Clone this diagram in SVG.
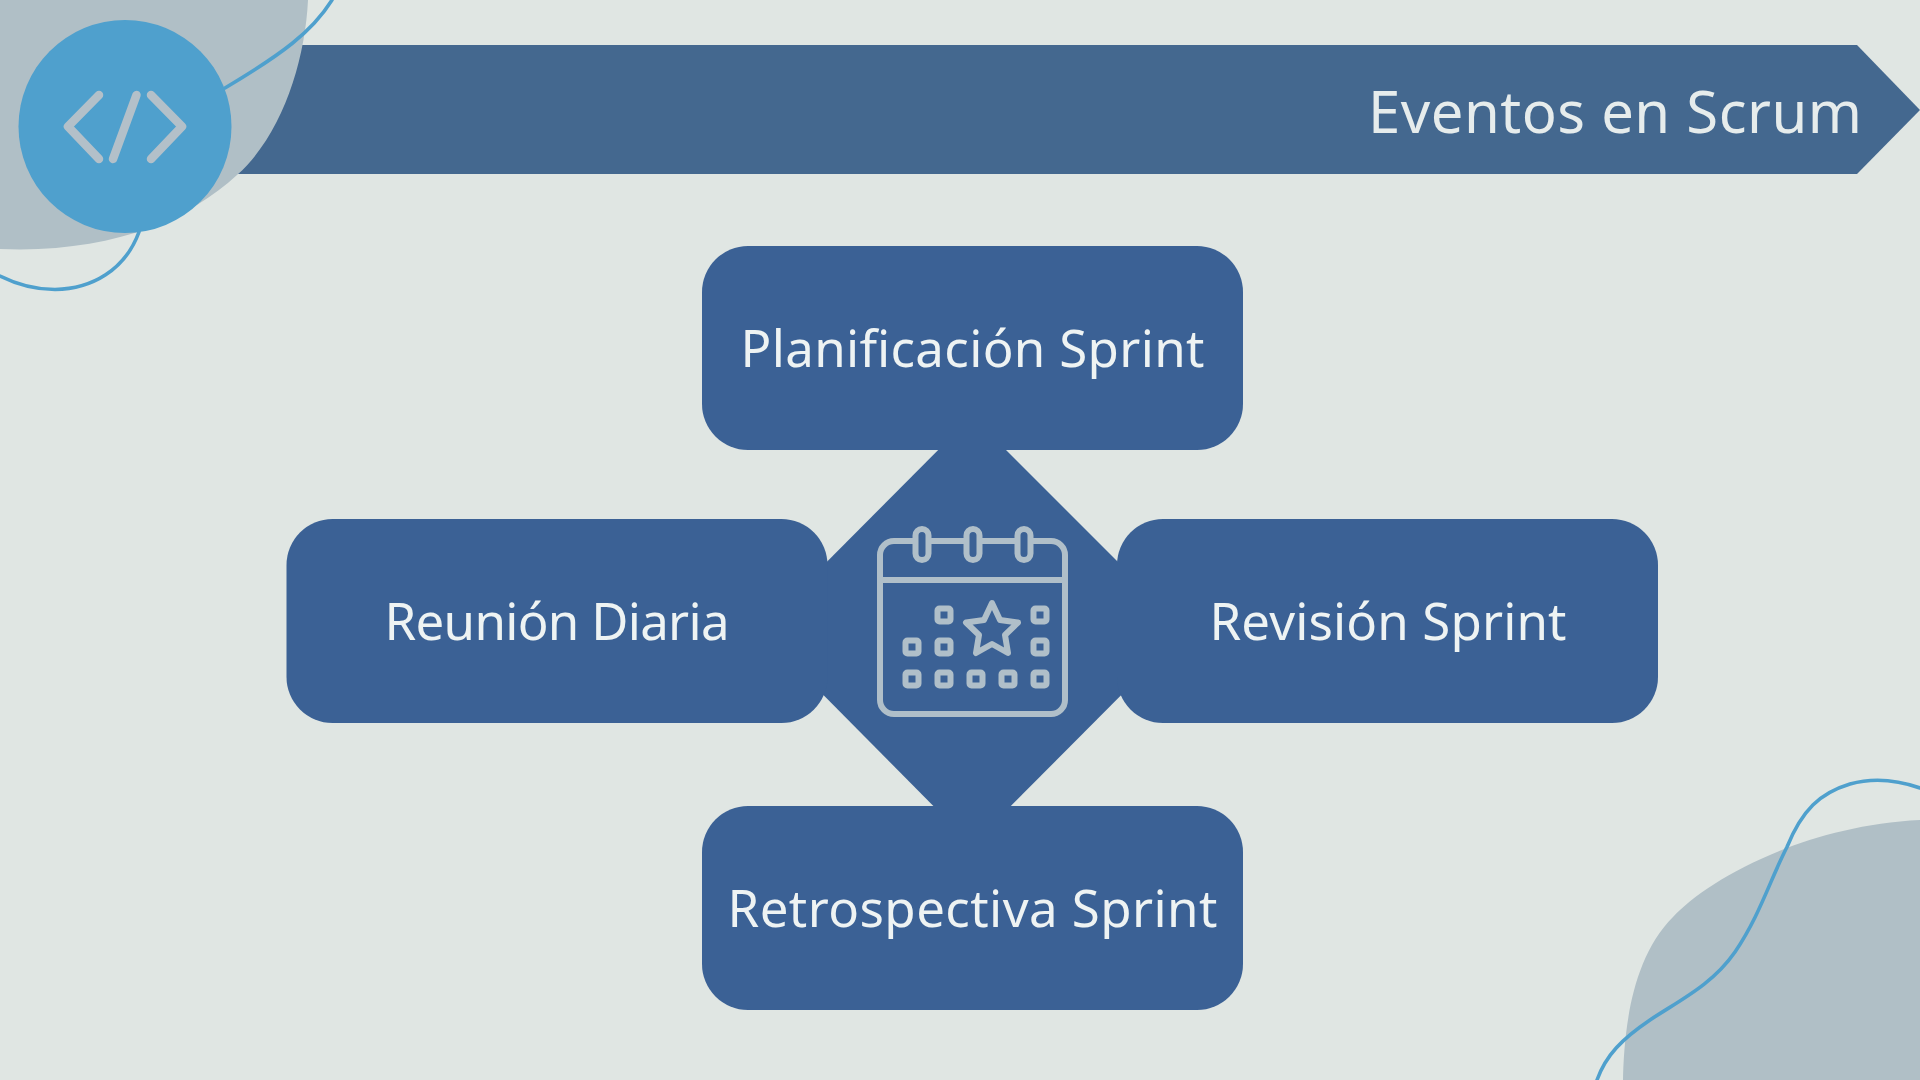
<svg xmlns="http://www.w3.org/2000/svg" width="1920" height="1080" viewBox="0 0 1920 1080">
<style>
.node{fill:#3B6195}
.blob{fill:#B0BFC6}
.wave{fill:none;stroke:#4FA0CD;stroke-width:3.6;stroke-linecap:round}
.label{font-family:"Noto Sans","Open Sans",sans-serif;font-size:51px;fill:#EEF3F3;text-anchor:middle}
.ic{fill:none;stroke:#B0BFC9;stroke-width:6;stroke-linejoin:round;stroke-linecap:round}
.code{fill:none;stroke:#B3C0C9;stroke-width:8.5;stroke-linejoin:round;stroke-linecap:round}
</style>
<defs>
<rect id="cell" x="-6.5" y="-6.5" width="13" height="13" rx="2" class="ic"/>
<rect id="ring" x="-6.5" y="-15.5" width="13" height="31" rx="6.5" class="ic" style="fill:#3B6195"/>
</defs>
<rect width="1920" height="1080" fill="#E0E6E3"/>
<g id="banner">
<path d="M220 45H1857L1920 110L1857 174H220Z" fill="#44688F"/>
<text x="1615" y="133" style="font-family:'Noto Sans','Open Sans',sans-serif;font-size:58px;fill:#E6ECEC;text-anchor:middle" textLength="494">Eventos en Scrum</text>
</g>
<g id="decor-top-left">
<path class="blob" d="M0 0H308C305 62 282 135 237 175C190 218 120 249 20 249.5L0 249Z"/>
<path class="wave" d="M332 0C312 32 282 54 225 88"/>
<path class="wave" d="M139 232C125 270 92 289 55 289.500C33 289.500 14 283 0 276"/>
</g>
<g id="code-badge">
<circle cx="125" cy="126.500" r="106.500" fill="#4FA0CD"/>
<path class="code" d="M99 95L68 126.500L99 159"/>
<path class="code" d="M136.500 95L113 159"/>
<path class="code" d="M151 95L182 126.500L151 159"/>
</g>
<g id="decor-bottom-right">
<path class="blob" d="M1623 1080C1624 1035 1630 960 1673 917C1705 882 1800 826 1920 820V1080Z"/>
<path class="wave" d="M1597 1080C1606 1055 1622 1039 1650 1020C1680 1000 1712 985 1735 952C1760 915 1770 880 1787 847C1802 810 1820 793 1850 784C1875 777 1900 781 1920 788"/>
</g>
<g id="center-diamond">
<path class="node" d="M972 416L1186 630L972 845L759 630Z"/>
<g id="calendar-icon">
<rect class="ic" x="880" y="541" width="185" height="173" rx="14"/>
<path class="ic" d="M880 580H1065"/>
<use href="#ring" x="922" y="544.500"/>
<use href="#ring" x="973" y="544.500"/>
<use href="#ring" x="1024" y="544.500"/>
<use href="#cell" x="944" y="615"/><use href="#cell" x="1040" y="615"/>
<use href="#cell" x="912" y="647"/><use href="#cell" x="944" y="647"/><use href="#cell" x="1040" y="647"/>
<use href="#cell" x="912" y="679"/><use href="#cell" x="944" y="679"/><use href="#cell" x="976" y="679"/><use href="#cell" x="1008" y="679"/><use href="#cell" x="1040" y="679"/>
<path class="ic" d="M992 603L1000 620L1018 622.500L1005 635L1008 653L992 644L976 653L979 635L966 622.500L984 620Z"/>
</g>
</g>
<g id="node-planificacion">
<rect class="node" x="702" y="246" width="541" height="204" rx="46"/>
<text class="label" x="972.500" y="367" textLength="464">Planificación Sprint</text>
</g>
<g id="node-reunion">
<rect class="node" x="286.500" y="519" width="541" height="204" rx="46"/>
<text class="label" x="557" y="640" textLength="345">Reunión Diaria</text>
</g>
<g id="node-revision">
<rect class="node" x="1117" y="519" width="541" height="204" rx="46"/>
<text class="label" x="1388" y="640" textLength="357">Revisión Sprint</text>
</g>
<g id="node-retrospectiva">
<rect class="node" x="702" y="806" width="541" height="204" rx="46"/>
<text class="label" x="972.500" y="927" textLength="490">Retrospectiva Sprint</text>
</g>
</svg>
